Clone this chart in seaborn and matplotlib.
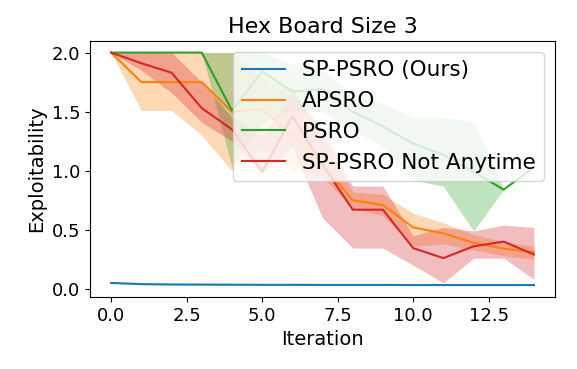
import matplotlib
matplotlib.use('Agg')
import matplotlib.pyplot as plt
from matplotlib.ticker import MultipleLocator
import pandas as pd
import seaborn as sns

# Data
iterations = list(range(15))

sp_psro = [0.05, 0.04, 0.037, 0.036, 0.035, 0.034, 0.034, 0.033, 0.033, 0.033, 0.032, 0.032, 0.032, 0.032, 0.032]
sp_psro_lo = [0.045, 0.035, 0.033, 0.032, 0.031, 0.030, 0.030, 0.030, 0.030, 0.030, 0.029, 0.029, 0.029, 0.029, 0.029]
sp_psro_hi = [0.055, 0.045, 0.041, 0.040, 0.039, 0.038, 0.038, 0.036, 0.036, 0.036, 0.035, 0.035, 0.035, 0.035, 0.035]

apsro = [2.0, 1.75, 1.75, 1.75, 1.5, 1.52, 1.3, 1.05, 0.75, 0.71, 0.52, 0.47, 0.39, 0.34, 0.31]
apsro_lo = [2.0, 1.51, 1.51, 1.3, 1.0, 1.2, 1.0, 0.95, 0.68, 0.62, 0.36, 0.38, 0.33, 0.28, 0.25]
apsro_hi = [2.0, 2.0, 2.0, 2.0, 2.0, 1.78, 1.7, 1.3, 0.82, 0.8, 0.64, 0.56, 0.46, 0.40, 0.36]

psro = [2.0, 2.0, 2.0, 2.0, 1.51, 1.84, 1.67, 1.69, 1.5, 1.375, 1.23, 1.135, 0.99, 0.84, 1.03]
psro_lo = [2.0, 2.0, 2.0, 2.0, 1.03, 1.4, 1.5, 1.5, 1.35, 1.2, 0.92, 0.87, 0.49, 0.84, 1.03]
psro_hi = [2.0, 2.0, 2.0, 2.0, 2.0, 2.0, 1.9, 1.85, 1.65, 1.57, 1.45, 1.45, 1.42, 0.84, 1.03]

not_anytime = [2.0, 1.91, 1.83, 1.53, 1.35, 0.99, 1.46, 1.05, 0.67, 0.67, 0.345, 0.26, 0.36, 0.40, 0.29]
not_anytime_lo = [2.0, 1.85, 1.66, 1.41, 1.25, 0.98, 1.2, 0.6, 0.345, 0.345, 0.2, 0.05, 0.26, 0.26, 0.08]
not_anytime_hi = [2.0, 2.0, 2.0, 1.75, 1.45, 1.3, 1.66, 1.35, 0.87, 0.87, 0.45, 0.52, 0.49, 0.54, 0.52]

series = [
    ('SP-PSRO (Ours)', sp_psro, sp_psro_lo, sp_psro_hi),
    ('APSRO', apsro, apsro_lo, apsro_hi),
    ('PSRO', psro, psro_lo, psro_hi),
    ('SP-PSRO Not Anytime', not_anytime, not_anytime_lo, not_anytime_hi),
]
colors = sns.color_palette('tab10', 4)

fig, ax = plt.subplots(figsize=(5.77, 3.69), dpi=100)
fig.subplots_adjust(left=0.156, right=0.962, top=0.889, bottom=0.195)

for (name, mean, lo, hi), c in zip(series, colors):
    df = pd.DataFrame({'Iteration': iterations, 'Exploitability': mean})
    sns.lineplot(data=df, x='Iteration', y='Exploitability', color=c, label=name, ax=ax)
    ax.fill_between(iterations, lo, hi, color=c, alpha=0.3, linewidth=0)

ax.xaxis.set_major_locator(MultipleLocator(2.5))
ax.set_title('Hex Board Size 3', fontsize=16)
ax.set_xlabel('Iteration', fontsize=14)
ax.set_ylabel('Exploitability', fontsize=14)
ax.tick_params(labelsize=13)
ax.legend(loc='upper right', fontsize=15.5)

fig.savefig('out.png', dpi=100)
